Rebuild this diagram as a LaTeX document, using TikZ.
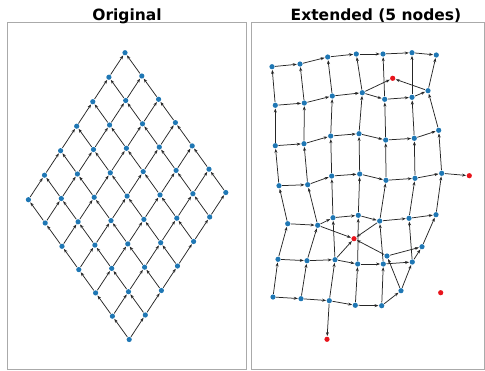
\documentclass[tikz,border=0pt]{standalone}
\usepackage{fontspec}
\newfontfamily\titlefont{DejaVu Sans}
\usetikzlibrary{arrows.meta}
\definecolor{nodeblue}{HTML}{1F77B4}
\definecolor{nodered}{HTML}{E8141C}
\definecolor{framegray}{HTML}{AAAAAA}
\tikzset{
  bnode/.style={circle,fill=nodeblue,inner sep=0pt,minimum size=5.2pt,outer sep=0.6pt},
  rnode/.style={circle,fill=nodered,inner sep=0pt,minimum size=5.2pt,outer sep=0.6pt},
  edge/.style={draw=black!85,line width=0.75pt,-{Stealth[length=4pt,width=3pt]}},
  frame/.style={draw=framegray,line width=1pt},
  title/.style={font=\titlefont\bfseries\fontsize{15.5}{18}\selectfont,anchor=base}
}
\begin{document}
\begin{tikzpicture}[x=1pt,y=-1pt]
\useasboundingbox (0,0) rectangle (485,370);
\draw[frame] (7.5,22.7) rectangle (246.3,369.3);
\draw[frame] (251.3,22.7) rectangle (484.5,369.3);
\node[title] (t1) at (127,20.7) {Original};
\node[title] (t2) at (376,20.7) {Extended (5 nodes)};
% left diamond lattice
\foreach \i in {0,...,6}{
  \foreach \j in {0,...,6}{
    \node[bnode] (L-\i-\j) at ({125-16.1*\i+16.8*\j},{52.7+24.5*\i+23.3*\j}) {};
  }
}
\foreach \i in {0,...,5}{
  \foreach \j in {0,...,6}{
    \pgfmathtruncatemacro\k{\i+1}
    \draw[edge] (L-\k-\j) -- (L-\i-\j);
    \draw[edge] (L-\j-\k) -- (L-\j-\i);
  }
}
% right perturbed grid
\foreach \c/\x/\y in {0/272/66.7,1/300/64,2/327.7/57,3/356.3/54,4/383/54,5/412/52.7,6/436.3/55}
  \node[bnode] (R-0-\c) at (\x,\y) {};
\foreach \c/\x/\y in {0/275.3/105.3,1/304.3/103,2/332.3/96,3/362.3/92.7,4/384.7/99.3,5/412/97.3,6/428/90.7}
  \node[bnode] (R-1-\c) at (\x,\y) {};
\foreach \c/\x/\y in {0/275.3/145.7,1/304/143.7,2/330.7/136,3/359/133.7,4/385.7/140,5/414.3/138.3,6/438.7/130.3}
  \node[bnode] (R-2-\c) at (\x,\y) {};
\foreach \c/\x/\y in {0/279/185.7,1/307.7/184.7,2/331.7/176,3/359.7/174,4/386/180.3,5/415/178.3,6/441.7/173.3}
  \node[bnode] (R-3-\c) at (\x,\y) {};
\foreach \c/\x/\y in {0/287.7/223.7,1/317.7/225.3,2/333/217.7,3/358.3/215.3,4/379.7/221,5/409/218.3,6/436/214.7}
  \node[bnode] (R-4-\c) at (\x,\y) {};
\foreach \c/\x/\y in {0/278/259.3,1/307/260.7,2/335/259.7,3/357.7/264,4/383.3/264,5/412.3/262,6/422/246.7}
  \node[bnode] (R-5-\c) at (\x,\y) {};
\foreach \c/\x/\y in {0/273/297,1/301/298.7,2/329.3/300.7,3/355.3/305.3,4/381.7/305.7,5/401/290.7,6/387/256}
  \node[bnode] (R-6-\c) at (\x,\y) {};
\node[rnode] (X1) at (392.7,78.3) {};
\node[rnode] (X2) at (469.3,175.7) {};
\node[rnode] (X3) at (354,238.7) {};
\node[rnode] (X4) at (440.7,292.7) {};
\node[rnode] (X5) at (327,339.3) {};
\foreach \r in {0,...,6}{
  \foreach \c in {0,...,5}{
    \pgfmathtruncatemacro\k{\c+1}
    \draw[edge] (R-\r-\c) -- (R-\r-\k);
    \draw[edge] (R-\k-\r) -- (R-\c-\r);
  }
}
\draw[edge] (R-1-3) -- (X1);
\draw[edge] (R-1-6) -- (X1);
\draw[edge] (R-3-6) -- (X2);
\draw[edge] (R-4-1) -- (X3);
\draw[edge] (R-5-2) -- (X3);
\draw[edge] (R-4-4) -- (X3);
\draw[edge] (R-6-6) -- (X3);
\draw[edge] (R-6-2) -- (X5);
\end{tikzpicture}
\end{document}
